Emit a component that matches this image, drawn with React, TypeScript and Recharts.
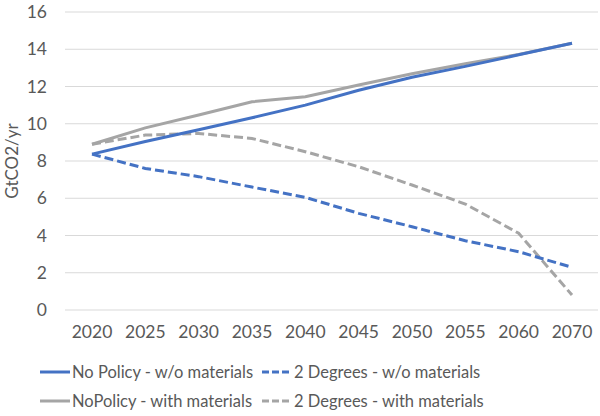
import { CartesianGrid, Line, LineChart, XAxis, YAxis } from "recharts";

const years = ["2020", "2025", "2030", "2035", "2040", "2045", "2050", "2055", "2060", "2070"];
const noPolicyWithout = [8.37, 9.05, 9.68, 10.32, 11.0, 11.8, 12.5, 13.08, 13.7, 14.32];
const twoDegWithout = [8.37, 7.6, 7.16, 6.6, 6.05, 5.19, 4.47, 3.72, 3.13, 2.29];
const noPolicyWith = [8.9, 9.78, 10.47, 11.18, 11.45, 12.08, 12.68, 13.22, 13.72, 14.32];
const twoDegWith = [8.9, 9.39, 9.48, 9.21, 8.5, 7.69, 6.71, 5.69, 4.12, 0.8];
const yTicks = [0, 2, 4, 6, 8, 10, 12, 14, 16];

const data = years.map((year, i) => ({
  year,
  npWo: noPolicyWithout[i],
  tdWo: twoDegWithout[i],
  npW: noPolicyWith[i],
  tdW: twoDegWith[i],
}));

const BLUE = "#4472C4";
const GRAY = "#A5A5A5";
const TEXT = "#595959";
const FONT = "Lato, 'Open Sans', sans-serif";

const legendItems = [
  { label: "No Policy - w/o materials", color: BLUE, dash: undefined },
  { label: "2 Degrees - w/o materials", color: BLUE, dash: "7 3" },
  { label: "NoPolicy - with materials", color: GRAY, dash: undefined },
  { label: "2 Degrees - with materials", color: GRAY, dash: "7 3" },
];

function LegendBox() {
  return (
    <div
      style={{
        position: "absolute",
        top: 362,
        left: 40,
        display: "grid",
        gridTemplateColumns: "222px 260px",
        rowGap: 9,
        fontFamily: FONT,
        fontSize: 16.5,
        color: TEXT,
      }}
    >
      {legendItems.map((it) => (
        <div key={it.label} style={{ display: "flex", alignItems: "center", height: 20 }}>
          <svg width={31} height={6} style={{ marginRight: 1 }}>
            <line x1={0} y1={3} x2={30} y2={3} stroke={it.color} strokeWidth={3} strokeDasharray={it.dash} />
          </svg>
          <span style={{ whiteSpace: "nowrap" }}>{it.label}</span>
        </div>
      ))}
    </div>
  );
}

export default function App() {
  return (
    <div style={{ position: "absolute", left: 0, top: 0, width: 600, height: 416, background: "#fff" }}>
      <LineChart width={600} height={416} data={data} margin={{ top: 12, right: 2, bottom: 76, left: 0 }}>
        <CartesianGrid vertical={false} stroke="#D9D9D9" strokeWidth={1} />
        <XAxis
          dataKey="year"
          height={30}
          axisLine={false}
          tickLine={false}
          padding={{ left: 27, right: 26 }}
          tick={{ fill: TEXT, fontSize: 17.5, fontFamily: FONT }}
          tickMargin={10}
          interval={0}
        />
        <YAxis
          width={65}
          domain={[0, 16]}
          ticks={yTicks}
          axisLine={false}
          tickLine={false}
          tick={{ fill: TEXT, fontSize: 17.5, fontFamily: FONT }}
          tickMargin={12}
          label={{
            value: "GtCO2/yr",
            angle: -90,
            position: "insideLeft",
            offset: 12,
            style: { fill: TEXT, fontSize: 17, fontFamily: FONT, textAnchor: "middle" },
          }}
        />
        <Line dataKey="npW" stroke={GRAY} strokeWidth={3} dot={false} isAnimationActive={false} />
        <Line dataKey="tdW" stroke={GRAY} strokeWidth={3} strokeDasharray="9 4" dot={false} isAnimationActive={false} />
        <Line dataKey="tdWo" stroke={BLUE} strokeWidth={3} strokeDasharray="9 4" dot={false} isAnimationActive={false} />
        <Line dataKey="npWo" stroke={BLUE} strokeWidth={3} dot={false} isAnimationActive={false} />
      </LineChart>
      <LegendBox />
    </div>
  );
}
